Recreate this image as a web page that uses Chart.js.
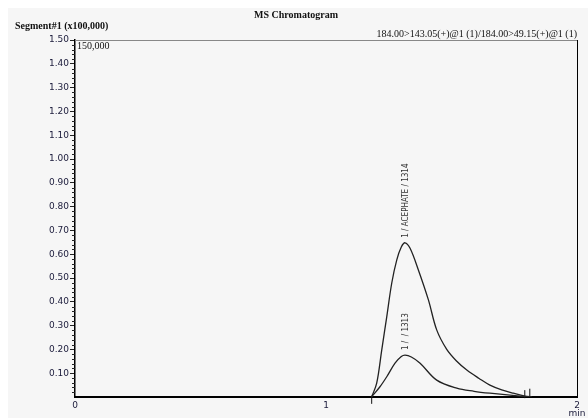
<!DOCTYPE html>
<html lang="en">
<head>
    <meta charset="UTF-8">
    <title>MS Chromatogram</title>
    <script src="https://cdn.jsdelivr.net/npm/chart.js"></script>
    <style>
        body { margin: 0; padding: 0; background: #fff; }
        #wrap { width: 588px; height: 418px; position: relative; }
    </style>
</head>
<body>
    <div id="wrap"><canvas id="chrom"></canvas></div>

    <script>
        // retention time (min) and intensity (x100,000)
        const acephateT = [1.182, 1.202, 1.222, 1.242, 1.262, 1.282, 1.300, 1.315, 1.335, 1.368, 1.408, 1.441, 1.481, 1.521, 1.561, 1.610, 1.653, 1.700, 1.746, 1.793, 1.820];
        const acephateV = [0.001, 0.058, 0.197, 0.337, 0.479, 0.576, 0.630, 0.648, 0.625, 0.534, 0.408, 0.282, 0.200, 0.150, 0.113, 0.078, 0.050, 0.030, 0.016, 0.004, 0.000];
        const q1313T = [1.182, 1.215, 1.242, 1.275, 1.300, 1.315, 1.340, 1.375, 1.441, 1.521, 1.590, 1.653, 1.773, 1.800];
        const q1313V = [0.001, 0.043, 0.085, 0.142, 0.170, 0.176, 0.168, 0.142, 0.071, 0.037, 0.024, 0.016, 0.004, 0.000];
        const peakLabels = ['1 / ACEPHATE / 1314', '1 /  / 1313'];
        const baselineT = [0, 2];
        const markerT = [1.182, 1.792, 1.812];
        const xTicks = [0, 1, 2];
        const yTicks = [0.10, 0.20, 0.30, 0.40, 0.50, 0.60, 0.70, 0.80, 0.90, 1.00, 1.10, 1.20, 1.30, 1.40, 1.50];

        const toPts = (t, v) => t.map((x, i) => ({ x: x, y: v[i] }));

        // background, frame, minor ticks, header texts
        const decor = {
            id: 'decor',
            beforeDraw(chart) {
                const c = chart.ctx;
                c.save();
                c.fillStyle = '#f6f6f6';
                c.fillRect(8, 8, 580, 410);
                c.restore();
            },
            afterDraw(chart) {
                const c = chart.ctx;
                const a = chart.chartArea;
                const ys = chart.scales.y;
                c.save();
                // top border (gray) and right border (black)
                c.strokeStyle = '#888';
                c.lineWidth = 1;
                c.beginPath(); c.moveTo(a.left, a.top + 0.5); c.lineTo(a.right, a.top + 0.5); c.stroke();
                c.strokeStyle = '#000';
                c.beginPath(); c.moveTo(a.right + 0.5, a.top); c.lineTo(a.right + 0.5, a.bottom); c.stroke();
                // minor ticks every 0.02
                c.strokeStyle = '#222';
                for (let i = 1; i <= 75; i++) {
                    const v = i * 0.02;
                    if (i % 5 === 0) continue;
                    const py = Math.round(ys.getPixelForValue(v)) + 0.5;
                    c.beginPath(); c.moveTo(a.left - 3, py); c.lineTo(a.left, py); c.stroke();
                }
                // texts
                c.fillStyle = '#111';
                c.font = 'bold 10px "Liberation Serif"';
                c.textAlign = 'center';
                c.fillText('MS Chromatogram', 296, 18);
                c.textAlign = 'left';
                c.fillText('Segment#1 (x100,000)', 15, 29);
                c.font = '10px "Liberation Serif"';
                c.fillText('150,000', a.left + 2, a.top + 9);
                c.textAlign = 'right';
                c.fillText('184.00>143.05(+)@1 (1)/184.00>49.15(+)@1 (1)', a.right, 37);
                c.font = '9px "DejaVu Sans"';
                c.fillStyle = '#1a1a3a';
                c.textAlign = 'center';
                c.fillText('min', a.right, 416);
                // peak labels, rotated
                c.font = '8px "DejaVu Sans Condensed", "DejaVu Sans"';
                c.fillStyle = '#333';
                [0, 1].forEach(di => {
                    const pts = chart.data.datasets[di].data;
                    let top = pts[0];
                    pts.forEach(p => { if (p.y > top.y) top = p; });
                    const px = chart.scales.x.getPixelForValue(top.x);
                    const py = ys.getPixelForValue(top.y);
                    c.save();
                    c.translate(px + 3, py - 5);
                    c.rotate(-Math.PI / 2);
                    c.textAlign = 'left';
                    c.fillText(peakLabels[di], 0, 0);
                    c.restore();
                });
                c.restore();
            }
        };

        new Chart(document.getElementById('chrom'), {
            type: 'line',
            data: {
                datasets: [
                    { data: toPts(acephateT, acephateV), borderColor: '#222', borderWidth: 1.3, pointRadius: 0, tension: 0.35 },
                    { data: toPts(q1313T, q1313V), borderColor: '#222', borderWidth: 1.3, pointRadius: 0, tension: 0.35 },
                    { data: toPts(baselineT, [0, 0]), borderColor: '#000', borderWidth: 2, pointRadius: 0 },
                    {
                        type: 'scatter',
                        data: toPts(markerT, [-0.012, 0.012, 0.018]),
                        pointStyle: 'line', rotation: 90, pointRadius: 4,
                        borderColor: '#111', borderWidth: 1, clip: false
                    }
                ]
            },
            options: {
                responsive: true,
                maintainAspectRatio: false,
                animation: false,
                layout: { padding: { top: 40, right: 11, left: 0, bottom: 0 } },
                plugins: { legend: { display: false }, tooltip: { enabled: false } },
                scales: {
                    x: {
                        type: 'linear', min: 0, max: 2,
                        afterBuildTicks: s => { s.ticks = xTicks.map(v => ({ value: v })); },
                        afterFit: s => { s.height = 21; },
                        grid: { drawOnChartArea: false, drawTicks: false },
                        border: { color: '#000', width: 1 },
                        ticks: { padding: 3, color: '#1a1a3a', font: { family: 'DejaVu Sans', size: 9 }, maxRotation: 0 }
                    },
                    y: {
                        type: 'linear', min: 0, max: 1.5,
                        afterBuildTicks: s => { s.ticks = yTicks.map(v => ({ value: v })); },
                        afterFit: s => { s.width = 75; },
                        grid: { drawOnChartArea: false, drawTicks: true, tickLength: 5, color: '#222' },
                        border: { color: '#000', width: 1.5 },
                        ticks: {
                            padding: 1, color: '#1a1a3a', font: { family: 'DejaVu Sans', size: 9 },
                            callback: v => v.toFixed(2)
                        }
                    }
                }
            },
            plugins: [decor]
        });
    </script>
</body>
</html>
